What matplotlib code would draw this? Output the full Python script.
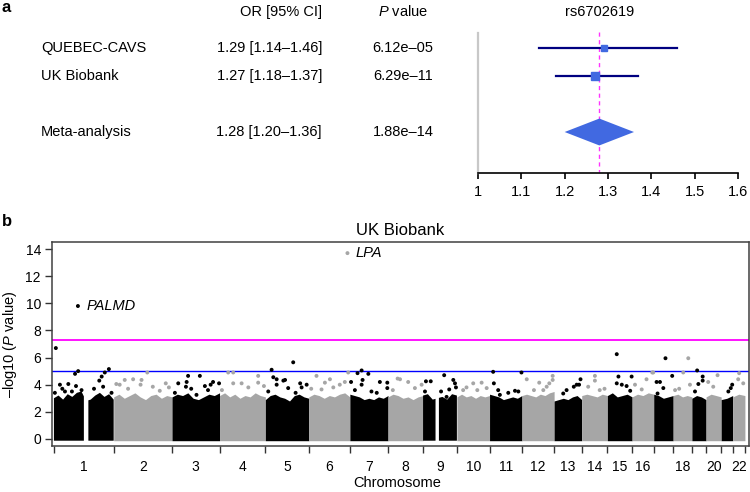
import numpy as np
import matplotlib
matplotlib.use('Agg')
import matplotlib.pyplot as plt
from matplotlib.patches import Polygon
from matplotlib.transforms import blended_transform_factory

plt.rcParams['font.family'] = ['Liberation Sans', 'DejaVu Sans']
plt.rcParams['mathtext.fontset'] = 'custom'
plt.rcParams['mathtext.rm'] = 'Liberation Sans'
plt.rcParams['mathtext.it'] = 'Liberation Sans:italic'

# ---- panel a: forest plot data ----
studies = ['QUEBEC-CAVS', 'UK Biobank', 'Meta-analysis']
odds_ratio = [1.29, 1.27, 1.28]
ci_low = [1.14, 1.18, 1.20]
ci_high = [1.46, 1.37, 1.36]
p_values = [6.12e-05, 6.29e-11, 1.88e-14]
snp_name = 'rs6702619'
forest_ticks = [1, 1.1, 1.2, 1.3, 1.4, 1.5, 1.6]
forest_tick_labels = ['1', '1.1', '1.2', '1.3', '1.4', '1.5', '1.6']

# ---- panel b: Manhattan plot data ----
chrom_len = [249, 243, 198, 191, 181, 171, 159, 146, 141, 136, 135,
             134, 115, 107, 103, 90, 81, 78, 59, 63, 48, 51]  # Mb
chrom_labels = ['1', '2', '3', '4', '5', '6', '7', '8', '9', '10', '11',
                '12', '13', '14', '15', '16', '', '18', '', '20', '', '22']
# top of the dense cloud of SNPs, evenly spaced along each chromosome
bulk_top = [
    [3.0, 3.2, 2.9, 3.3, 3.1, 3.4, 3.5, 2.8, 2.9, 3.2, 3.4, 3.1, 3.3, 2.9],
    [3.1, 3.3, 3.0, 3.2, 3.4, 3.1, 2.9, 3.2, 3.3, 3.0, 3.2, 3.1],
    [3.1, 3.3, 3.2, 3.4, 3.0, 2.9, 3.1, 3.3, 3.2, 3.4],
    [3.2, 3.4, 3.1, 3.3, 3.0, 3.2, 3.1, 3.4, 3.2, 3.1],
    [2.9, 3.2, 3.3, 3.1, 3.0, 2.8, 3.2, 3.3, 3.1, 3.0],
    [3.1, 3.3, 3.2, 3.0, 3.2, 3.1, 3.3, 3.4, 3.1],
    [3.3, 3.2, 3.1, 2.9, 3.0, 2.9, 3.1, 3.0, 3.2],
    [3.1, 3.3, 3.2, 3.0, 3.1, 2.9, 3.1, 3.2],
    [3.2, 3.3, 2.9, 3.0, 3.1, 2.9, 3.3, 3.2],
    [3.1, 3.3, 3.1, 3.2, 3.0, 3.2, 3.1, 3.2],
    [3.3, 3.2, 3.1, 2.9, 3.0, 3.1, 3.0, 3.2],
    [3.2, 3.3, 3.2, 3.1, 3.3, 3.2, 3.4, 3.5],
    [2.8, 2.9, 3.0, 2.9, 3.1, 3.2, 2.9],
    [3.2, 3.3, 3.2, 3.1, 3.3, 3.2],
    [3.2, 3.4, 3.1, 3.2, 3.3, 3.1],
    [3.1, 3.3, 3.2, 3.4, 3.3],
    [3.3, 3.2, 3.0, 3.1, 3.2],
    [3.2, 3.3, 3.1, 3.2, 3.1],
    [3.0, 3.2, 3.1, 2.9],
    [3.1, 3.3, 3.2, 3.1],
    [2.9, 3.0, 3.2],
    [3.1, 3.3, 3.2],
]
bulk_gaps = {1: (125, 143), 9: (52, 66)}  # centromere gaps, Mb

# stand-out SNPs: chromosome, position (Mb), -log10(P)
hit_chrom = [1] * 19 + [2] * 12 + [3] * 13 + [4] * 9 + [5] * 13 + [6] * 10 \
    + [7] * 12 + [8] * 6 + [9] * 10 + [10] * 6 + [11] * 8 + [12] * 8 \
    + [13] * 6 + [14] * 5 + [15] * 7 + [16] * 5 + [17] * 6 + [18] * 5 \
    + [19] * 5 + [20] * 3 + [21] * 3 + [22] * 3
hit_pos = [8, 100, 88, 101, 25, 60, 4, 46, 92, 212, 229, 199, 189, 167, 205, 240, 115, 35, 75,
           140, 81, 116, 112, 11, 46, 163, 217, 192, 25, 60, 230,
           67, 116, 61, 58, 26, 171, 196, 137, 161, 102, 12, 150, 80,
           36, 57, 92, 161, 161, 57, 120, 185, 10,
           26, 116, 33, 47, 47, 75, 82, 12, 145, 172, 95, 126, 151,
           32, 88, 67, 53, 102, 150, 164, 161, 129, 10,
           49, 32, 77, 53, 5, 49, 125, 156, 156, 112, 21, 90,
           40, 50, 84, 140, 112, 20,
           12, 32, 88, 126, 133, 109, 98, 8, 137, 75,
           68, 103, 26, 40, 124, 85,
           15, 133, 18, 36, 78, 106, 43, 120,
           20, 72, 114, 128, 128, 103, 89, 50,
           110, 104, 82, 52, 38, 94,
           27, 55, 55, 95, 75,
           39, 46, 101, 39, 60, 80, 95,
           12, 60, 84, 88, 40,
           49, 77, 12, 26, 40, 16,
           63, 42, 8, 70, 25,
           22, 45, 45, 27, 13,
           9, 48, 30,
           46, 40, 30,
           27, 23, 44]
hit_logp = [6.7, 9.8, 4.8, 5.0, 4.0, 4.05, 3.4, 3.5, 3.9, 4.9, 5.15, 4.6, 4.3, 3.7, 3.85, 3.4, 3.6, 3.7, 3.5,
            4.9, 4.4, 4.35, 4.0, 4.05, 4.35, 3.85, 4.1, 3.55, 4.0, 3.7, 3.8,
            4.65, 4.65, 4.2, 3.85, 4.1, 4.2, 4.1, 3.9, 4.0, 3.25, 3.4, 3.6, 3.7,
            4.9, 4.9, 4.1, 4.15, 4.65, 4.1, 3.8, 3.9, 3.6,
            5.1, 5.65, 4.55, 4.4, 4.0, 4.3, 4.35, 3.5, 4.1, 4.0, 3.75, 3.4, 3.8,
            4.65, 4.4, 4.15, 3.65, 3.8, 4.2, 4.9, 13.7, 4.0, 3.7,
            5.05, 4.85, 4.8, 4.35, 4.2, 4.0, 4.2, 4.15, 3.75, 3.4, 3.6, 3.5,
            4.45, 4.4, 4.2, 4.0, 3.75, 3.6,
            4.25, 4.25, 4.7, 4.35, 4.1, 3.65, 3.1, 3.5, 3.8, 3.5,
            4.1, 4.15, 3.6, 3.8, 3.75, 3.6,
            4.95, 4.9, 4.1, 3.6, 3.4, 3.55, 3.25, 3.5,
            4.4, 4.15, 4.1, 4.65, 4.35, 3.85, 3.6, 3.6,
            4.4, 4.0, 3.85, 3.6, 3.35, 4.0,
            3.85, 4.65, 4.3, 3.7, 3.6,
            6.25, 4.6, 4.6, 4.1, 4.0, 3.9, 3.55,
            4.0, 4.4, 4.9, 4.9, 3.65,
            5.95, 4.65, 4.2, 4.2, 3.75, 3.35,
            5.95, 4.9, 3.6, 4.0, 3.7,
            5.05, 4.6, 4.3, 4.05, 3.5,
            4.2, 4.7, 3.85,
            4.0, 3.75, 3.5,
            4.85, 4.4, 4.1]
gene_labels = {'PALMD': (1, 100, 9.8), 'LPA': (6, 161, 13.7)}

genome_wide = -np.log10(5e-8)
suggestive = 5

BLACK = '#000000'
GREY = '#a6a6a6'
W, H = 750, 492
FS = 10.5


def fig_xy(x, y):
    """pixel position on the 750x492 canvas -> figure fraction"""
    return x / W, 1 - y / H


def plot_forest(fig):
    # x axis of the forest: 1.0 sits at 478 px, 1.6 at 738 px
    x0, y0 = fig_xy(478, 173)
    ax = fig.add_axes([x0, y0, 260 / W, 145 / H])
    rows = [1, 2, 4]
    ax.set_xlim(1.0, 1.6)
    ax.set_ylim(5.464, 0.286)

    ax.plot([1.0, 1.0], [0.46, 5.464], color='#c8c8c8', lw=1.6, clip_on=False)
    ax.plot([odds_ratio[2]] * 2, [0.43, 5.43], color='#ff33ff', lw=1,
            ls=(0, (3, 2.5)), zorder=1)

    sizes = [4.5, 6]
    for i in range(2):
        ax.plot([ci_low[i], ci_high[i]], [rows[i]] * 2, color='#000080', lw=1.6, zorder=2)
        ax.plot(odds_ratio[i], rows[i], marker='s', ms=sizes[i], color='#4169e1',
                mec='#4169e1', zorder=3)
    r = rows[2]
    diamond = Polygon([(ci_low[2], r), (odds_ratio[2], r - 0.48),
                       (ci_high[2], r), (odds_ratio[2], r + 0.48)],
                      closed=True, fc='#4169e1', ec='none', zorder=3)
    ax.add_patch(diamond)

    for s in ['top', 'left', 'right']:
        ax.spines[s].set_visible(False)
    ax.spines['bottom'].set_linewidth(1.2)
    ax.set_yticks([])
    ax.set_xticks(forest_ticks)
    ax.set_xticklabels(forest_tick_labels)
    ax.tick_params(axis='x', length=4, width=1.2, pad=5, labelsize=FS)

    ax.text(odds_ratio[2], -0.29, snp_name, ha='center', va='center', fontsize=FS)

    # text columns
    tr = blended_transform_factory(fig.transFigure, ax.transData)
    fig.text(322 / W, -0.29, 'OR [95% CI]', transform=tr, ha='right', va='center', fontsize=FS)
    fig.text(403 / W, -0.29, r'$\mathit{P}$ value', transform=tr, ha='center', va='center',
             fontsize=FS)
    for i, name in enumerate(studies):
        fig.text(41 / W, rows[i], name, transform=tr, ha='left', va='center', fontsize=FS)
        ci = f'{odds_ratio[i]:.2f} [{ci_low[i]:.2f}–{ci_high[i]:.2f}]'
        fig.text(322 / W, rows[i], ci, transform=tr, ha='right', va='center', fontsize=FS)
        p = f'{p_values[i]:.2e}'.replace('-', '–')
        fig.text(403 / W, rows[i], p, transform=tr, ha='center', va='center', fontsize=FS)


def plot_manhattan(fig):
    x0, y0 = fig_xy(52, 446)
    ax = fig.add_axes([x0, y0, 697 / W, 204 / H])
    offsets = np.concatenate([[0], np.cumsum(chrom_len)[:-1]])
    total = sum(chrom_len)

    # dense cloud of SNPs per chromosome
    for i, length in enumerate(chrom_len):
        col = BLACK if i % 2 == 0 else GREY
        env = bulk_top[i]
        xs = np.linspace(0, length, 400)
        hs = np.interp(xs, np.linspace(0, length, len(env)), env)
        if i + 1 in bulk_gaps:
            g0, g1 = bulk_gaps[i + 1]
            hs[(xs > g0) & (xs < g1)] = np.nan
        ax.fill_between(offsets[i] + xs, -0.13, hs, color=col, lw=0)

    # individual SNPs above the cloud
    hx = [offsets[c - 1] + p for c, p in zip(hit_chrom, hit_pos)]
    hc = [BLACK if c % 2 == 1 else GREY for c in hit_chrom]
    ax.scatter(hx, hit_logp, s=8, c=hc, lw=0, zorder=3)

    for gene, (c, p, v) in gene_labels.items():
        ax.annotate(gene, (offsets[c - 1] + p, v), xytext=(6, 0), textcoords='offset points',
                    ha='left', va='center', style='italic', fontsize=FS)

    ax.axhline(genome_wide, color='#ff00ff', lw=1.3, zorder=2)
    ax.axhline(suggestive, color='#0000ff', lw=1.0, zorder=2)

    ax.set_xlim(-8, total + 17)
    ax.set_ylim(-0.52, 14.52)
    ax.set_yticks(range(0, 15, 2))
    bounds = np.concatenate([[0], np.cumsum(chrom_len)])
    ax.set_xticks(bounds)
    ax.set_xticklabels([])
    ax.set_xticks(offsets + np.array(chrom_len) / 2, minor=True)
    ax.set_xticklabels(chrom_labels, minor=True)
    ax.tick_params(axis='x', which='major', length=5, width=1, color='#333333')
    ax.tick_params(axis='x', which='minor', length=0, pad=10, labelsize=10)
    ax.tick_params(axis='y', length=5, width=1, pad=3, labelsize=10, color='#333333')
    for s in ax.spines.values():
        s.set_color('#404040')
        s.set_linewidth(1.1)

    ax.set_title('UK Biobank', fontsize=12, pad=5)
    ax.set_xlabel('Chromosome', fontsize=FS)
    ax.xaxis.set_label_coords(0.495, -0.145)
    ax.set_ylabel(r'–log10 ($\mathit{P}$ value)', fontsize=FS)
    ax.yaxis.set_label_coords(-0.047, 0.5)


def main():
    fig = plt.figure(figsize=(7.5, 4.92), dpi=100)
    plot_forest(fig)
    plot_manhattan(fig)
    fig.text(*fig_xy(2, 8), 'a', fontsize=12, fontweight='bold', va='center')
    fig.text(*fig_xy(2, 222), 'b', fontsize=12, fontweight='bold', va='center')
    fig.savefig('out.png', dpi=100)


if __name__ == '__main__':
    main()
